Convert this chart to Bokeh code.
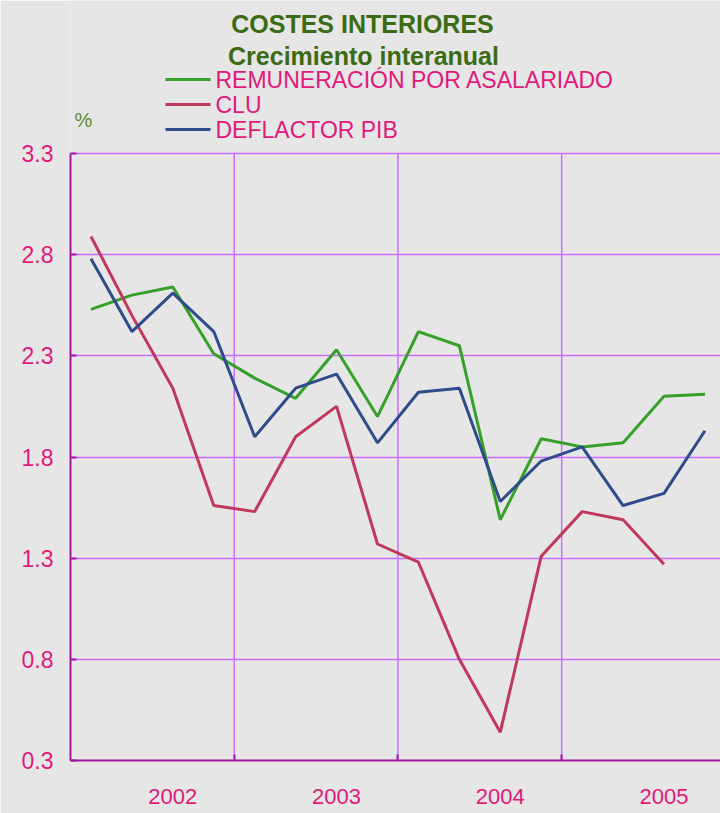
from bokeh.plotting import figure
from bokeh.models import FixedTicker, Range1d
from bokeh.core.properties import value
from bokeh.embed import file_html
from bokeh.resources import INLINE

# ---- data ----
quarters = list(range(16))  # 2002Q1 .. 2005Q4
remuneracion = [2.53, 2.60, 2.64, 2.31, 2.19, 2.09, 2.33, 2.00, 2.42, 2.35, 1.49, 1.89, 1.85, 1.87, 2.10, 2.11]
clu = [2.89, 2.50, 2.14, 1.56, 1.53, 1.90, 2.05, 1.37, 1.28, 0.80, 0.44, 1.31, 1.53, 1.49, 1.27]
deflactor = [2.78, 2.42, 2.61, 2.42, 1.90, 2.14, 2.21, 1.87, 2.12, 2.14, 1.58, 1.78, 1.85, 1.56, 1.62, 1.93]
years = ["2002", "2003", "2004", "2005"]
year_tick_pos = [2, 6, 10, 14]
year_bounds = [3.5, 7.5, 11.5]
y_ticks = [0.3, 0.8, 1.3, 1.8, 2.3, 2.8, 3.3]
series_names = ["REMUNERACIÓN POR ASALARIADO", "CLU", "DEFLACTOR PIB"]
title_lines = ["COSTES INTERIORES", "Crecimiento interanual"]
unit_label = "%"

# ---- styles ----
BG = "#e6e6e6"
GRID = "#cc6cff"
AXIS = "#a0189c"
TICKTXT = "#e0197a"
TITLE = "#3b6b12"
GREEN = "#36a02a"
RED = "#c0385c"
BLUE = "#2e4b8a"
FONT = "Liberation Sans"
colors = [GREEN, RED, BLUE]

W, H = 720, 813
LEFT, BOTTOM = 70, 53          # frame borders (px)
X0, X1 = -0.5, 15.38           # visible quarter range
Y0, Y1 = y_ticks[0], y_ticks[-1]
AX_TOP_PX = 153                # page y of the top of the value axis
TXT_SHIFT = 9                  # compensation for text baseline placement
frame_w = W - LEFT
frame_h = H - BOTTOM
qw = frame_w / (X1 - X0)
uh = (frame_h - AX_TOP_PX) / (Y1 - Y0)
YTOP = Y1 + AX_TOP_PX / uh     # frame extends to the page top for the header


def px_x(px):
    return X0 + (px - LEFT) / qw


def px_y(py):
    return Y1 + (AX_TOP_PX - py) / uh


def txt_y(py):
    return px_y(py - TXT_SHIFT)


p = figure(width=W, height=H, output_backend="svg", toolbar_location=None,
           x_range=Range1d(X0, X1), y_range=Range1d(Y0, YTOP),
           min_border_left=LEFT, min_border_right=0, min_border_top=0, min_border_bottom=BOTTOM)
p.background_fill_color = BG
p.border_fill_color = BG
p.outline_line_color = None

# grid
p.ygrid.ticker = FixedTicker(ticks=y_ticks)
p.ygrid.grid_line_color = GRID
p.ygrid.grid_line_width = 1.5
p.xgrid.visible = False
p.segment(x0=year_bounds, y0=[Y0] * len(year_bounds), x1=year_bounds, y1=[Y1] * len(year_bounds),
          line_color=GRID, line_width=1.5)

# series
for vals, c in zip([remuneracion, clu, deflactor], colors):
    p.line(quarters[:len(vals)], vals, line_color=c, line_width=3)

# axes
p.yaxis.bounds = (Y0, Y1)
p.yaxis.ticker = FixedTicker(ticks=y_ticks)
p.yaxis.major_label_overrides = {v: f"{v:.1f}" for v in y_ticks}
p.yaxis.major_tick_in = 6
p.yaxis.major_tick_out = 0
p.yaxis.minor_tick_line_color = None
p.yaxis.major_tick_line_color = AXIS
p.yaxis.major_tick_line_width = 2
p.yaxis.axis_line_color = AXIS
p.yaxis.axis_line_width = 2
p.yaxis.major_label_text_color = TICKTXT
p.yaxis.major_label_text_font = FONT
p.yaxis.major_label_text_font_size = "23px"
p.yaxis.major_label_standoff = 17

p.xaxis.ticker = FixedTicker(ticks=year_tick_pos, minor_ticks=year_bounds)
p.xaxis.major_label_overrides = {t: y for t, y in zip(year_tick_pos, years)}
p.xaxis.major_tick_line_color = None
p.xaxis.minor_tick_in = 6
p.xaxis.minor_tick_out = 0
p.xaxis.minor_tick_line_color = AXIS
p.xaxis.minor_tick_line_width = 2
p.xaxis.axis_line_color = AXIS
p.xaxis.axis_line_width = 2
p.xaxis.major_label_text_color = TICKTXT
p.xaxis.major_label_text_font = FONT
p.xaxis.major_label_text_font_size = "22px"
p.xaxis.major_label_standoff = 22

# header: titles, unit and legend
p.text(x=[px_x(362), px_x(363)], y=[txt_y(32), txt_y(64)], text=title_lines, text_align="center",
       text_baseline="alphabetic", text_font=value(FONT), text_font_size="25px",
       text_font_style="bold", text_color=TITLE)
p.text(x=[px_x(74)], y=[txt_y(128)], text=[unit_label], text_align="left",
       text_baseline="alphabetic", text_font=value(FONT), text_font_size="20px",
       text_color="#5d8a2e")
row_px = [79, 104, 129]
row_y = [px_y(r) for r in row_px]
p.segment(x0=[px_x(165)] * 3, y0=row_y, x1=[px_x(210)] * 3, y1=row_y,
          line_color=colors, line_width=3)
p.text(x=[px_x(215)] * 3, y=[txt_y(r + 9) for r in row_px], text=series_names,
       text_align="left", text_baseline="alphabetic", text_font=value(FONT),
       text_font_size="23px", text_color=TICKTXT)

open("out.html", "w").write(file_html(p, INLINE))
